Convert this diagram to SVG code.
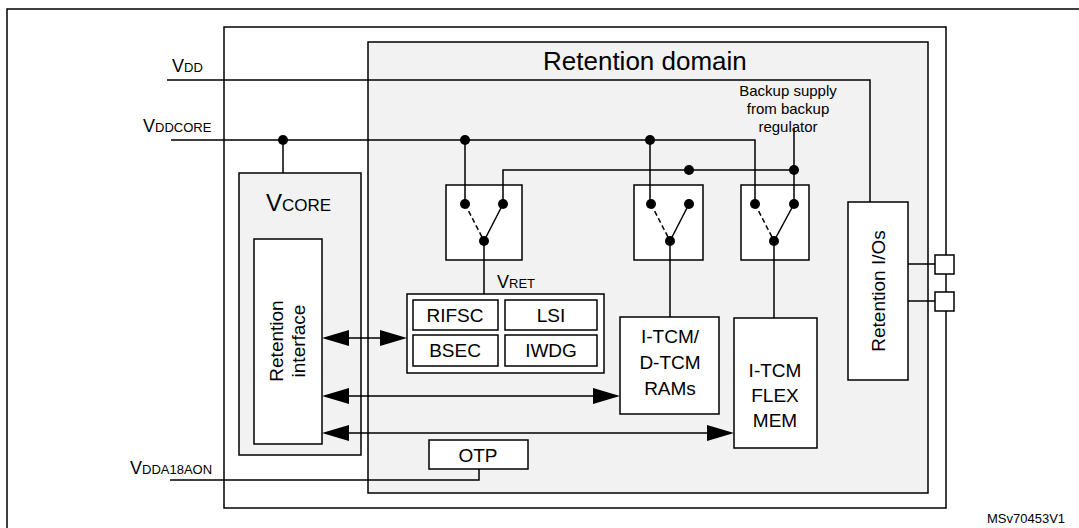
<svg xmlns="http://www.w3.org/2000/svg" width="1079" height="528" viewBox="0 0 1079 528">
<style>
text{font-family:"Liberation Sans",Arial,sans-serif;fill:#000}
.b{fill:#fff;stroke:#000;stroke-width:1.5}
.g{fill:#f2f2f2;stroke:#000;stroke-width:1.5}
.w{fill:none;stroke:#000;stroke-width:1.5}
.d{fill:#000}
.t{font-size:19px;text-anchor:middle}
</style>
<rect width="1079" height="528" fill="#fff"/>
<path class="w" d="M7,530V9H1080"/>
<rect class="b" x="224" y="27" width="722" height="481"/>
<g id="retention-domain"><rect class="g" x="368" y="42" width="560" height="451"/>
<text x="543" y="70" font-size="26">Retention domain</text></g>
<g id="vcore"><rect class="g" x="239" y="173" width="122" height="282"/>
<text x="266" y="211" font-size="24">V<tspan font-size="17">CORE</tspan></text></g>
<g id="retention-interface"><rect class="b" x="254" y="239" width="68" height="205"/>
<text class="t" transform="translate(288,341) rotate(-90)"><tspan x="0" y="-5">Retention</tspan><tspan x="0" y="17">interface</tspan></text></g>
<g id="switch1"><rect class="b" x="446" y="185" width="76" height="75"/></g>
<g id="switch2"><rect class="b" x="634" y="185" width="69" height="75"/></g>
<g id="switch3"><rect class="b" x="741" y="185" width="68" height="75"/></g>
<g id="vret"><rect class="b" x="407" y="294" width="197" height="79"/>
<text x="497" y="288" font-size="18">V<tspan font-size="13">RET</tspan></text>
<rect class="b" x="413" y="300" width="85" height="30"/><text class="t" x="455" y="322">RIFSC</text>
<rect class="b" x="505" y="300" width="92" height="30"/><text class="t" x="551" y="322">LSI</text>
<rect class="b" x="413" y="335" width="85" height="31"/><text class="t" x="455" y="357">BSEC</text>
<rect class="b" x="505" y="335" width="92" height="31"/><text class="t" x="551" y="357">IWDG</text></g>
<g id="itcm-dtcm"><rect class="b" x="620" y="317" width="99" height="97"/>
<text class="t" x="670" y="343">I-TCM/</text><text class="t" x="670" y="369">D-TCM</text><text class="t" x="670" y="395">RAMs</text></g>
<g id="itcm-flex"><rect class="b" x="734" y="318" width="83" height="130"/>
<text class="t" x="775" y="377">I-TCM</text><text class="t" x="775" y="402">FLEX</text><text class="t" x="775" y="427">MEM</text></g>
<g id="otp"><rect class="b" x="429" y="440" width="99" height="29"/><text class="t" x="478" y="462">OTP</text></g>
<g id="retention-ios"><rect class="b" x="848" y="202" width="60" height="178"/>
<text class="t" transform="translate(878,291) rotate(-90)" y="7" font-size="20">Retention I/Os</text></g>
<g id="pads"><rect class="b" x="935" y="255" width="19" height="19"/><rect class="b" x="935" y="292" width="19" height="19"/></g>
<g id="labels">
<text x="172" y="72" font-size="18">V<tspan font-size="13">DD</tspan></text>
<text x="143" y="132" font-size="18">V<tspan font-size="13">DDCORE</tspan></text>
<text x="130" y="474" font-size="18">V<tspan font-size="13">DDA18AON</tspan></text>
<text x="788" y="96" font-size="15" text-anchor="middle">Backup supply</text>
<text x="788" y="114" font-size="15" text-anchor="middle">from backup</text>
<text x="788" y="132" font-size="15" text-anchor="middle">regulator</text>
<text x="987" y="523" font-size="13">MSv70453V1</text>
</g>
<g id="connectors">
<path class="w" d="M167,80H870V202M171,140H755V204M283,140V173M465,140V204M650,140V204M503,204V170H794V204M794,170V128M479,469V480H170M908,264H935M908,301H935"/>
<path class="w" d="M484,241V294M670,241V317M774,241V318M503,204L484,241M689,204L670,241M794,204L774,241"/>
<path class="w" stroke-dasharray="5,3" d="M465,204L484,241M651,204L670,241M755,204L774,241"/>
<circle class="d" cx="283" cy="140" r="5"/><circle class="d" cx="465" cy="140" r="5"/><circle class="d" cx="650" cy="140" r="5"/>
<circle class="d" cx="689" cy="170" r="5"/><circle class="d" cx="794" cy="170" r="5"/>
<circle class="d" cx="465" cy="204" r="5"/><circle class="d" cx="503" cy="204" r="5"/><circle class="d" cx="484" cy="241" r="5"/>
<circle class="d" cx="651" cy="204" r="5"/><circle class="d" cx="689" cy="204" r="5"/><circle class="d" cx="670" cy="241" r="5"/>
<circle class="d" cx="755" cy="204" r="5"/><circle class="d" cx="794" cy="204" r="5"/><circle class="d" cx="774" cy="241" r="5"/>
<path class="w" d="M330,338H399M330,396H612M330,433H726"/>
<path class="d" d="M322,338l27,-8v16zM407,338l-27,-8v16zM322,396l27,-8v16zM620,396l-27,-8v16zM322,433l27,-8v16zM734,433l-27,-8v16z"/>
</g>
</svg>
